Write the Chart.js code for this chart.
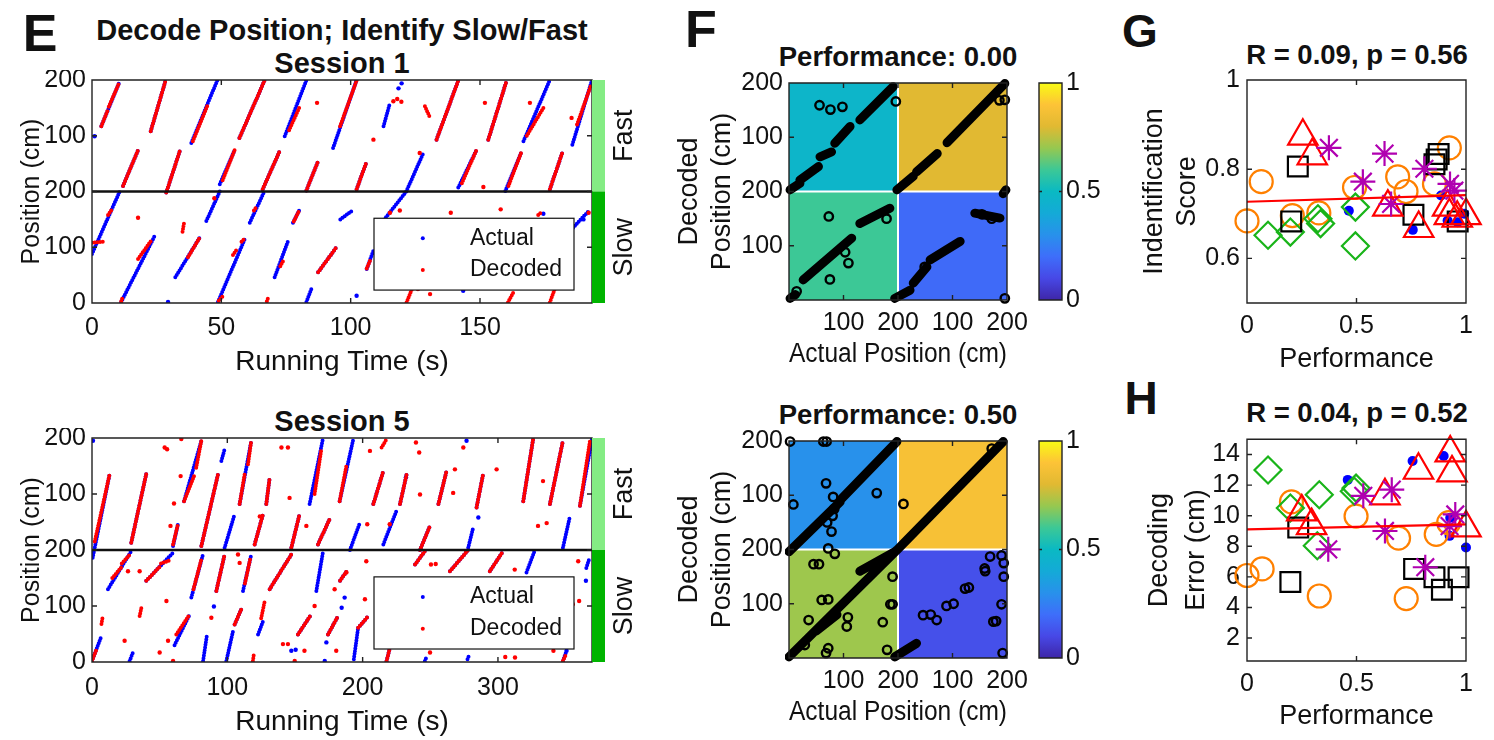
<!DOCTYPE html>
<html>
<head>
<meta charset="utf-8">
<title>Decode position; identify slow/fast</title>
<script src="https://cdn.jsdelivr.net/npm/chart.js@4.4.1/dist/chart.umd.min.js"></script>
<style>
body { margin: 0; background: #fff; }
#fig { position: relative; width: 1494px; height: 740px; overflow: hidden; font-family: "Liberation Sans", Arial, sans-serif; color: #111; }
#fig canvas { position: absolute; }
.txt { position: absolute; transform: translate(-50%, -50%); white-space: nowrap; line-height: 1; font-weight: bold; }
</style>
</head>
<body>
<div id="fig">
  <div class="txt" style="left:40px;top:33px;font-size:52px">E</div>
  <div class="txt" style="left:342px;top:30px;font-size:29px">Decode Position; Identify Slow/Fast</div>
  <div class="txt" style="left:342px;top:63px;font-size:29px">Session 1</div>
  <div class="txt" style="left:342px;top:421px;font-size:29px">Session 5</div>
  <div class="txt" style="left:701px;top:29px;font-size:52px">F</div>
  <div class="txt" style="left:898px;top:57px;font-size:27.5px">Performance: 0.00</div>
  <div class="txt" style="left:898px;top:415px;font-size:27.5px">Performance: 0.50</div>
  <div class="txt" style="left:1140px;top:31px;font-size:46px">G</div>
  <div class="txt" style="left:1357px;top:55px;font-size:27.5px">R = 0.09, p = 0.56</div>
  <div class="txt" style="left:1141px;top:398px;font-size:46px">H</div>
  <div class="txt" style="left:1357px;top:413px;font-size:27.5px">R = 0.04, p = 0.52</div>
</div>
<script>
// ---- panel E: actual vs decoded position, runs are [t0, pos0, t1, pos1]
// position 0-200 = slow lap, 200-400 = fast lap (shown as 0-200 again)
const trackTicks = [0, 100, 200, 300, 400];

const s1Time = [0, 50, 100, 150];
const s1End = 193.3;
const s1ActualRuns = [
  [0,88,10.7,200],[11.3,2,24.2,120],[12,210,17.8,274],[3.6,317,10.4,394],[22.7,308,28.5,400],
  [28.7,198,33.9,272],[32.2,46,41.6,117],[44.2,147,49.4,200],[38.4,287,48.5,400],[49.4,213,55.2,275],
  [48.7,2,59,114],[57,296,66.7,399],[61,144,66.7,201],[66,204,72.5,272],[70.6,46,76,114],
  [77.7,144,80.3,168],[74.5,299,82.9,400],[82.9,202,87.4,254],[82.9,2,84.8,25],[87.4,55,94.5,100],
  [93.2,278,102.3,400],[96,150,100.4,165],[102.3,204,106.2,254],[106.2,61,108.8,94],[112.7,317,115.2,359],
  [113,150,121.5,200],[121.5,200,128.1,269],[133.2,293,141.6,399],[141.6,207,148.7,275],[153.2,293,160.3,399],
  [159.8,201,166.1,272],[166.8,290,177,400],[177,204,182,272],[185.7,284,193.3,400],[186,135,192,165]
];
const s1DecodedRuns = [
  [0,108,4.3,110],[3.6,317,6,345],[6.5,352,10.4,394],[6.2,158,7.4,166],[11.3,3,12,12],
  [17.8,79,22.9,112],[12,210,17.8,274],[22.7,308,28.5,400],[28.7,198,33.9,272],[35,128,35.6,144],
  [37.1,82,41.6,117],[39,290,44.8,356],[50.5,220,55.2,275],[49,4,50.5,12],[54.5,86,56,96],
  [57.8,110,59,115],[57,296,66.7,399],[62.6,166,63.5,172],[66,204,72.5,272],[67.6,3,68,8],
  [72.8,66,74.2,78],[76.2,310,80.3,352],[78,146,80,165],[82.9,202,87.4,254],[87.4,55,94.5,100],
  [95.9,317,102.3,399],[102.3,204,106.2,254],[106.2,62,107.5,76],[121.6,1,124.2,31],[128.7,353,130.7,332],
  [133.2,293,141.6,399],[143,215,148.7,275],[153.2,293,160.3,399],[160.8,1,162.9,19],[161,210,166.1,272],
  [168.1,300,174.5,350],[172.5,158,174,164],[177,204,182,272],[177,1,178.9,25],[187.5,320,193,392],
  [184.1,91,185.4,115]
];
const s1ActualDots = [[1,299],[29.4,2],[102.3,13],[119.7,394],[118.5,385],[143.5,22],[174.5,160],[190,150]];
const s1DecodedDots = [
  [17.8,153],[47.3,188],[87,359],[108.8,293],[116.5,362],[118,366],[119.6,361],[115.2,162],[119,166],
  [126.7,269],[126,25],[130.7,16],[138.7,162],[151.3,208],[151.9,359],[158,168],[169.3,359],[185.4,332],[192,162]
];

const s5Time = [0, 100, 200, 300];
const s5End = 369.5;
const s5ActualRuns = [
  [0.5,186,13,335],[0,2,6.9,46],[11.8,130,29,198],[29,213,40.1,336],[27.8,2,30.3,17],
  [40.1,145,59.8,195],[59.9,207,63.5,246],[61,30,72.2,85],[68,287,80.8,395],[73.4,115,82,192],
  [80.8,207,93.1,335],[82.1,2,85,49],[91.9,127,98,192],[95.6,359,98,380],[98,204,105.4,264],
  [99.3,2,104.2,55],[105.4,67,110.3,94],[109.1,282,117.7,395],[111.6,127,117.7,192],[120.2,210,126.4,264],
  [122.7,49,126.4,73],[128.8,282,131.3,329],[131.3,130,147.3,192],[147.3,204,153.4,264],[152.2,49,162,85],
  [160.8,282,170.6,398],[165.8,127,170.6,195],[167,210,175.6,255],[174.4,49,181.8,82],[183,287,193.1,398],
  [183.3,145,188.2,162],[190.6,200,198,249],[193.5,5,196.5,58],[196.7,61,204.2,82],[207.9,282,215.3,341],
  [215.3,210,225,270],[217.7,2,220.2,26],[227.6,282,232.5,335],[238.7,174,246,198],[242.4,200,249.8,243],
  [246,2,247,8],[256,282,262,341],[264.5,162,278,200],[278,204,281.7,240],[284.2,276,289,335],
  [277.5,5,278.5,11],[294,162,303,195],[318.7,287,326,398],[321.1,160,327.3,200],[338.4,282,348,395],
  [348,204,353,258],[360.6,279,369.5,398],[365.3,168,367.7,186],[348,2,350.7,20]
];
const s5DecodedRuns = [
  [2,215,13,335],[0,2,3,20],[15,150,22,170],[22,176,28,192],[29,213,40.1,336],
  [40.1,145,50,170],[51,176,58,182],[62.3,49,72.2,85],[59.9,210,63.5,246],[68,287,75.9,335],
  [77,347,80.8,395],[80.8,207,93.1,335],[75,130,81,185],[91.9,127,98,192],[105.4,67,110.3,94],
  [109.1,282,112.8,335],[115.3,353,117.7,395],[113,140,117,185],[118.9,2,119.5,12],[120.2,210,126.4,264],
  [125,78,127.6,108],[128.8,282,131.3,329],[131.3,130,147.3,192],[147.3,204,153.4,264],[152.2,49,162,85],
  [164.5,300,169.5,380],[167,210,175.6,255],[174.4,49,181.8,82],[183,287,188.2,353],[183.3,145,188.2,162],
  [196.7,61,204.2,82],[207.9,282,215.3,341],[214,383,217.7,398],[217.7,2,220.2,26],[227.6,282,232.5,335],
  [238.7,174,246,198],[242.4,200,249.8,243],[256,282,262,341],[264.5,162,278,200],[284.2,276,289,335],
  [294,162,303,195],[318.7,287,326,398],[338.4,282,348,395],[348,2,350,12],[360.6,279,368,395],
  [7,68,8,82],[35.2,82,36.5,97]
];
const s5ActualDots = [
  [0.7,395],[90.1,99],[173.2,35],[186.7,115],[184.5,97],[285.5,258],[365,145],[350.7,20],
  [147.3,20],[150.5,22],[172,2],[276.8,395],[232,330]
];
const s5DecodedDots = [
  [53.7,383],[55.5,380],[66,398],[58,243],[60.6,283],[65.5,332],[88.2,79],[107.9,192],[109.1,177],
  [124,260],[140,383],[144.8,383],[141.1,32],[144.8,32],[146,293],[149.8,2],[157,20],[158.4,243],
  [164.5,100],[179.3,130],[180.5,20],[188,160],[202.7,180],[201.7,112],[203.4,246],[205.4,377],[220,246],
  [239.4,392],[241.8,374],[242.4,299],[249.8,17],[250.5,174],[254,175],[266.9,302],[268.2,344],[274.4,383],
  [299,344],[305.4,9],[312.6,8],[312.4,165],[329.6,243],[333.3,323],[336,248],[341,20],[355.3,103],
  [360,109],[359.3,180],[26.6,162],[35.2,162],[55,109],[50,17],[59.9,2],[56.2,38],[24.1,38]
];

// ---- panel F: decoded vs actual position, cell values are TL, TR, BL, BR
const mapTicks = [0, 100, 200, 300, 400];
const quadEdges = [0, 200, 400];
const fTopCells = [0.47, 0.80, 0.60, 0.19];
const fTopBands = [
  [2,203,20,215],[20,221,54,246],[57,264,78,273],[84,289,112,320],[130,332,191,393],
  [198,203,228,228],[234,236,272,270],[290,290,396,399],
  [2,3,12,10],[26,37,115,114],[130,141,185,169],
  [194,3,222,18],[228,31,253,61],[259,74,314,108],[341,160,387,151],[393,196,398,203]
];
const fTopStray = [
  [56,359],[76,351],[98,356],[196,366],[396,369],[386,368],[73,154],[75,38],[103,88],[109,68],
  [396,3],[249,61],[372,150],[354,158],[14,16],[179,150]
];
const fBotCells = [0.30, 0.88, 0.71, 0.12];
const fBotBands = [
  [0,196,94,288],[94,291,198,399],[198,199,393,399],[0,2,198,199],[130,160,196,197],[50,50,88,80],[194,2,234,27]
];
const fBotStray = [
  [2,399],[63,399],[69,399],[8,283],[68,322],[161,304],[72,202],[78,233],[81,297],[70,250],[80,262],[83,275],
  [372,386],[210,284],
  [45,173],[55,173],[60,107],[72,108],[106,58],[172,66],[186,99],[190,99],[72,18],[68,9],[29,24],[84,192],
  [180,15],[108,75],[36,70],[160,172],[190,150],
  [369,187],[390,189],[394,175],[394,150],[359,165],[360,160],[323,128],[330,130],[289,96],[302,100],
  [246,79],[260,80],[271,70],[390,99],[375,67],[380,68],[392,9]
];
const barTicks = [0, 0.5, 1];

// ---- panels G/H: per-animal scores against performance, [performance, value]
const gOrange = [[0,0.684],[0.065,0.772],[0.207,0.696],[0.328,0.702],[0.491,0.759],[0.688,0.783],[0.726,0.750],[0.856,0.767],[0.924,0.848]];
const gGreen = [[0.096,0.652],[0.198,0.659],[0.324,0.689],[0.336,0.678],[0.495,0.715],[0.495,0.628]];
const gBlack = [[0.202,0.683],[0.232,0.806],[0.76,0.698],[0.856,0.811],[0.866,0.822],[0.875,0.834],[0.962,0.683]];
const gRed = [[0.255,0.874],[0.298,0.830],[0.643,0.715],[0.784,0.667],[0.916,0.715],[0.924,0.696],[0.96,0.69],[1.0,0.696]];
const gPurple = [[0.374,0.848],[0.529,0.772],[0.628,0.835],[0.658,0.722],[0.81,0.801],[0.927,0.767],[0.947,0.752]];
const gBlue = [[0.465,0.707],[0.757,0.664],[0.886,0.741],[0.916,0.685],[0.962,0.681],[0.992,0.700]];
const gFit = [0.727, 0.742];
const gTicks = [0.6, 0.8, 1];

const hOrange = [[0,6.09],[0.069,6.52],[0.203,10.9],[0.33,4.75],[0.498,9.97],[0.692,8.53],[0.727,4.58],[0.864,8.78],[0.921,9.54]];
const hGreen = [[0.096,12.99],[0.198,10.5],[0.33,11.37],[0.321,8.03],[0.498,11.8],[0.49,11.6]];
const hBlack = [[0.198,5.66],[0.234,9.22],[0.763,6.52],[0.856,5.98],[0.89,5.16],[0.966,5.98]];
const hRed = [[0.25,10.25],[0.295,9.35],[0.63,11.3],[0.783,12.97],[0.928,14.1],[0.936,12.8],[1.0,9.2]];
const hPurple = [[0.371,7.8],[0.531,11.3],[0.661,11.7],[0.63,9.0],[0.814,6.63],[0.925,9.32],[0.951,10.08]];
const hBlue = [[0.46,12.34],[0.756,13.57],[0.898,13.9],[0.925,8.68],[0.928,9.86],[1.0,7.92]];
const hFit = [9.11, 9.43];
const hTicks = [2, 4, 6, 8, 10, 12, 14];

const perfTicks = [0, 0.5, 1];

// parula-like colormap, [stop, r, g, b]
const parulaStops = [
  [0,62,38,168],[0.1,71,72,230],[0.2,62,110,250],[0.3,40,145,235],[0.4,20,170,215],[0.5,10,185,195],
  [0.6,60,200,150],[0.7,150,200,80],[0.8,225,185,50],[0.9,253,195,55],[1,249,251,20]
];

const FONT = '"Liberation Sans", Arial, sans-serif';
const INK = '#111111';
const BLUE = '#0000ff';
const RED = '#ff0000';
const plain = v => String(v);

function parula(v) {
  for (let i = 1; i < parulaStops.length; i++) {
    const a = parulaStops[i - 1], b = parulaStops[i];
    if (v <= b[0]) {
      const f = (v - a[0]) / (b[0] - a[0]);
      const c = [1, 2, 3].map(k => Math.round(a[k] + (b[k] - a[k]) * f));
      return `rgb(${c[0]},${c[1]},${c[2]})`;
    }
  }
  return 'rgb(249,251,20)';
}

function place(left, top, w, h) {
  const c = document.createElement('canvas');
  c.width = w; c.height = h;
  c.style.left = left + 'px'; c.style.top = top + 'px';
  c.style.width = w + 'px'; c.style.height = h + 'px';
  document.getElementById('fig').appendChild(c);
  return c;
}

function runPoints(runs) {
  const pts = [];
  runs.forEach(r => pts.push({ x: r[0], y: r[1] }, { x: r[2], y: r[3] }, { x: r[2], y: null }));
  return pts;
}
const dotPoints = d => d.map(p => ({ x: p[0], y: p[1] }));

function axisTitle(text, size, dist, lh = 1) {
  const pad = dist - size * lh / 2;
  return { display: true, text, color: INK, font: { family: FONT, size, lineHeight: lh }, padding: { top: pad, bottom: pad } };
}

function axis(min, max, values, thick, title, tickSize, pad, fmt) {
  const ticks = { color: INK, font: { family: FONT, size: tickSize, lineHeight: 1.2 }, padding: pad, maxRotation: 0, autoSkip: false, callback: fmt || plain };
  const o = {
    type: 'linear', min, max, ticks,
    grid: { display: false, drawTicks: false },
    border: { display: false },
    afterBuildTicks: s => { s.ticks = values.map(v => ({ value: v })); },
    afterFit: s => {
      if (s.isHorizontal()) { s.height = thick; s.paddingLeft = 0; s.paddingRight = 0; }
      else { s.width = thick; s.paddingTop = 0; s.paddingBottom = 0; }
    }
  };
  if (title) o.title = title;
  return o;
}

const quiet = { legend: { display: false }, tooltip: { enabled: false } };

// box round the axes with inward ticks on all four sides
const framePlugin = {
  id: 'frame',
  defaults: { tick: 5, width: 1.4 },
  afterDraw(chart, args, o) {
    const { ctx, chartArea: a } = chart;
    ctx.save();
    ctx.strokeStyle = '#222';
    ctx.lineWidth = o.width;
    ctx.beginPath();
    Object.values(chart.scales).forEach(s => {
      if (!s.options.display) return;
      s.ticks.forEach(t => {
        const p = s.getPixelForValue(t.value);
        if (s.isHorizontal()) {
          ctx.moveTo(p, a.bottom); ctx.lineTo(p, a.bottom - o.tick);
          ctx.moveTo(p, a.top); ctx.lineTo(p, a.top + o.tick);
        } else {
          ctx.moveTo(a.left, p); ctx.lineTo(a.left + o.tick, p);
          ctx.moveTo(a.right, p); ctx.lineTo(a.right - o.tick, p);
        }
      });
    });
    ctx.rect(a.left, a.top, a.right - a.left, a.bottom - a.top);
    ctx.stroke();
    ctx.restore();
  }
};

// green side bar marking fast (top) and slow (bottom) halves
const speedStrip = {
  id: 'speedStrip',
  afterDraw(chart) {
    const { ctx, chartArea: a, scales: { y } } = chart;
    const mid = y.getPixelForValue(200);
    ctx.save();
    ctx.fillStyle = '#84ec84';
    ctx.fillRect(a.right, a.top, 13, mid - a.top);
    ctx.fillStyle = '#00b400';
    ctx.fillRect(a.right, mid, 13, a.bottom - mid);
    ctx.font = `27px ${FONT}`;
    ctx.fillStyle = INK;
    ctx.textAlign = 'center';
    ctx.textBaseline = 'middle';
    [['Fast', (a.top + mid) / 2], ['Slow', (mid + a.bottom) / 2]].forEach(([t, yy]) => {
      ctx.save();
      ctx.translate(a.right + 33, yy);
      ctx.rotate(-Math.PI / 2);
      ctx.fillText(t, 0, 0);
      ctx.restore();
    });
    ctx.restore();
  }
};

// legend box inside the lower right of the track axes
const trackKey = {
  id: 'trackKey',
  afterDraw(chart) {
    const { ctx, chartArea: a } = chart;
    const box = [0.564, 0.62, 0.964, 0.942];
    const x0 = a.left + a.width * box[0], y0 = a.top + a.height * box[1];
    const x1 = a.left + a.width * box[2], y1 = a.top + a.height * box[3];
    ctx.save();
    ctx.fillStyle = '#fff';
    ctx.fillRect(x0, y0, x1 - x0, y1 - y0);
    ctx.strokeStyle = INK;
    ctx.lineWidth = 1.2;
    ctx.strokeRect(x0, y0, x1 - x0, y1 - y0);
    ctx.font = `23px ${FONT}`;
    ctx.textBaseline = 'middle';
    ctx.textAlign = 'left';
    chart.data.datasets.filter(d => d.keyRow !== undefined).forEach(d => {
      const yy = y0 + (y1 - y0) * (0.28 + 0.44 * d.keyRow);
      ctx.fillStyle = d.borderColor;
      ctx.beginPath();
      ctx.arc(x0 + (x1 - x0) * 0.244, yy, 2, 0, Math.PI * 2);
      ctx.fill();
      ctx.fillStyle = INK;
      ctx.fillText(d.label, x0 + (x1 - x0) * 0.48, yy);
    });
    ctx.restore();
  }
};

// coloured quadrants behind the decoded/actual scatter
const quadFill = {
  id: 'quadFill',
  beforeDatasetsDraw(chart, args, o) {
    const { ctx, scales: { x, y } } = chart;
    ctx.save();
    o.cells.forEach((v, i) => {
      const col = i % 2, row = 1 - Math.floor(i / 2);
      const px0 = x.getPixelForValue(quadEdges[col]), px1 = x.getPixelForValue(quadEdges[col + 1]);
      const py0 = y.getPixelForValue(quadEdges[row + 1]), py1 = y.getPixelForValue(quadEdges[row]);
      ctx.fillStyle = parula(v);
      ctx.fillRect(px0, py0, px1 - px0, py1 - py0);
    });
    ctx.strokeStyle = '#fff';
    ctx.lineWidth = 2;
    const mx = x.getPixelForValue(quadEdges[1]), my = y.getPixelForValue(quadEdges[1]);
    ctx.beginPath();
    ctx.moveTo(mx, y.getPixelForValue(400)); ctx.lineTo(mx, y.getPixelForValue(0));
    ctx.moveTo(x.getPixelForValue(0), my); ctx.lineTo(x.getPixelForValue(400), my);
    ctx.stroke();
    ctx.restore();
  }
};

const colorRamp = {
  id: 'colorRamp',
  beforeDatasetsDraw(chart) {
    const { ctx, chartArea: a } = chart;
    const g = ctx.createLinearGradient(0, a.bottom, 0, a.top);
    parulaStops.forEach(s => g.addColorStop(s[0], `rgb(${s[1]},${s[2]},${s[3]})`));
    ctx.fillStyle = g;
    ctx.fillRect(a.left, a.top, a.right - a.left, a.bottom - a.top);
  }
};

function trackPanel(top, bottomGap, xDist, tickPad, tEnd, tTicks, actualRuns, decodedRuns, actualDots, decodedDots) {
  const dotted = { showLine: true, spanGaps: false, borderWidth: 4, borderDash: [0, 2.7], borderCapStyle: 'round', pointRadius: 0 };
  new Chart(place(0, top, 660, 310), {
    type: 'scatter',
    data: { datasets: [
      { data: [{ x: 0, y: 200 }, { x: tEnd, y: 200 }], showLine: true, borderColor: INK, borderWidth: 2.5, pointRadius: 0, order: -1 },
      Object.assign({ label: 'Decoded', keyRow: 1, data: runPoints(decodedRuns), borderColor: RED, order: 0 }, dotted),
      { data: dotPoints(decodedDots), pointRadius: 2.2, pointBackgroundColor: RED, pointBorderWidth: 0, order: 0 },
      Object.assign({ label: 'Actual', keyRow: 0, data: runPoints(actualRuns), borderColor: BLUE, order: 1 }, dotted),
      { data: dotPoints(actualDots), pointRadius: 2.2, pointBackgroundColor: BLUE, pointBorderWidth: 0, order: 1 }
    ] },
    options: {
      responsive: false, animation: false, events: [],
      layout: { padding: { top: 10, right: 68, left: 0, bottom: 0 } },
      scales: {
        x: axis(0, tEnd, tTicks, bottomGap, axisTitle('Running Time (s)', 28, xDist), 25, tickPad),
        y: axis(0, 400, trackTicks, 92, axisTitle('Position (cm)', 25, 32), 25, 6, v => String(v > 200 ? v - 200 : v))
      },
      plugins: quiet
    },
    plugins: [framePlugin, speedStrip, trackKey]
  });
}

function mapPanel(top, cells, bands, stray) {
  const fmt = v => (v === 0 ? '' : String(v > 200 ? v - 200 : v));
  new Chart(place(660, top, 370, 310), {
    type: 'scatter',
    data: { datasets: [
      { data: runPoints(bands), showLine: true, spanGaps: false, borderColor: '#000', borderWidth: 9, borderCapStyle: 'round', pointRadius: 0, clip: 4 },
      { data: dotPoints(stray), pointRadius: 4.2, pointBorderWidth: 2.4, pointBorderColor: '#000', pointBackgroundColor: 'rgba(0,0,0,0)', clip: false }
    ] },
    options: {
      responsive: false, animation: false, events: [],
      layout: { padding: { top: 13, right: 23, left: 0, bottom: 0 } },
      scales: {
        x: axis(0, 400, mapTicks, 80, axisTitle('Actual Position (cm)', 27, 25), 25, 8, fmt),
        y: axis(0, 400, mapTicks, 129, axisTitle(['Decoded', 'Position (cm)'], 27, 30, 1.222), 25, 6, fmt)
      },
      plugins: Object.assign({ quadFill: { cells } }, quiet)
    },
    plugins: [quadFill, framePlugin]
  });
}

function colorBar(top) {
  const y = axis(0, 1, barTicks, 53, null, 25, 4);
  y.position = 'right';
  new Chart(place(1035, top, 80, 240), {
    type: 'scatter',
    data: { datasets: [] },
    options: {
      responsive: false, animation: false, events: [],
      layout: { padding: { top: 13, right: 0, left: 4, bottom: 10 } },
      scales: { x: { type: 'linear', display: false, min: 0, max: 1 }, y },
      plugins: Object.assign({ frame: { tick: 3 } }, quiet)
    },
    plugins: [colorRamp, framePlugin]
  });
}

function markers(pts, style, radius, color, filled, order) {
  return {
    data: dotPoints(pts), pointStyle: style, pointRadius: radius, order, clip: false,
    pointBorderColor: color, pointBorderWidth: filled ? 0 : 2.2,
    pointBackgroundColor: filled ? color : 'rgba(0,0,0,0)'
  };
}

function scorePanel(top, h, padTop, groups, fit, yMin, yMax, yTicks, yTitle, yDist, yLh, xDist) {
  new Chart(place(1100, top, 394, h), {
    type: 'scatter',
    data: { datasets: [
      { data: [{ x: 0, y: fit[0] }, { x: 1, y: fit[1] }], showLine: true, borderColor: RED, borderWidth: 2.2, pointRadius: 0, order: -1 },
      markers(groups[0], 'star', 12.5, '#b000b0', false, 0),
      markers(groups[1], 'triangle', 17, RED, false, 1),
      markers(groups[2], 'rect', 14, '#000', false, 2),
      markers(groups[3], 'rectRot', 13.5, '#19b419', false, 3),
      markers(groups[4], 'circle', 11.5, '#ff8000', false, 4),
      markers(groups[5], 'circle', 5, BLUE, true, 5)
    ] },
    options: {
      responsive: false, animation: false, events: [],
      layout: { padding: { top: padTop, right: 28, left: 0, bottom: 0 } },
      scales: {
        x: axis(0, 1, perfTicks, 77, axisTitle('Performance', 27, xDist), 25, 8),
        y: axis(yMin, yMax, yTicks, 147, axisTitle(yTitle, 27, yDist, yLh), 25, 7)
      },
      plugins: quiet
    },
    plugins: [framePlugin]
  });
}

trackPanel(70, 77, 18, 10, s1End, s1Time, s1ActualRuns, s1DecodedRuns, s1ActualDots, s1DecodedDots);
trackPanel(428, 76, 16, 11, s5End, s5Time, s5ActualRuns, s5DecodedRuns, s5ActualDots, s5DecodedDots);

mapPanel(70, fTopCells, fTopBands, fTopStray);
mapPanel(428, fBotCells, fBotBands, fBotStray);
colorBar(70);
colorBar(428);

scorePanel(60, 320, 20, [gPurple, gRed, gBlack, gGreen, gOrange, gBlue], gFit, 0.5, 1, gTicks,
  ['Indentification', 'Score'], 55, 1.222, 20);
scorePanel(420, 318, 18, [hPurple, hRed, hBlack, hGreen, hOrange, hBlue], hFit, 0.5, 15, hTicks,
  ['Decoding', 'Error (cm)'], 60, 1.37, 21);
</script>
</body>
</html>
